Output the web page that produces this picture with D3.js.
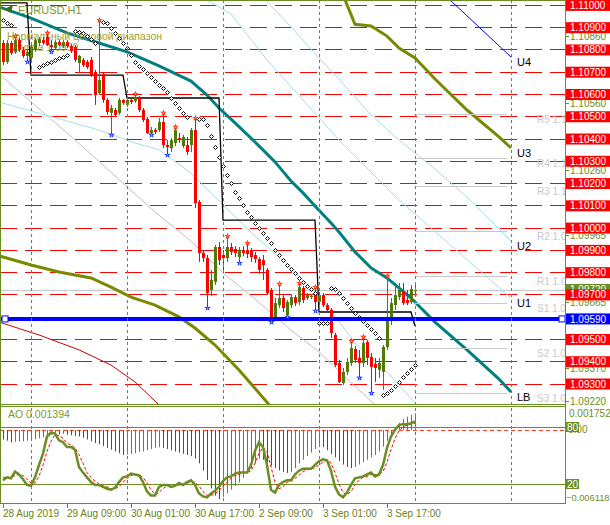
<!DOCTYPE html>
<html><head><meta charset="utf-8">
<script src="https://cdn.jsdelivr.net/npm/d3@7"></script>
<style>body{margin:0;background:#fff}svg{display:block}text{font-family:"Liberation Sans",Arial,sans-serif}</style>
</head><body>
<svg id="c" width="610" height="525"></svg>
<script>
// ---------------- DATA ----------------
const opens = [1.10829,1.10744,1.10829,1.10789,1.10842,1.10798,1.10771,1.10762,1.10798,1.10829,
1.10842,1.10856,1.10820,1.10807,1.10833,1.10815,1.10833,1.10815,1.10811,1.10739,
1.10753,1.10744,1.10753,1.10699,1.10604,1.10690,1.10573,1.10515,1.10528,1.10515,
1.10573,1.10551,1.10573,1.10569,1.10582,1.10528,1.10488,1.10425,1.10438,1.10438,
1.10474,1.10371,1.10357,1.10380,1.10402,1.10366,1.10371,1.10371,1.10438,1.10115,
1.09886,1.09863,1.09720,1.09756,1.09913,1.09877,1.09863,1.09913,1.09904,1.09868,
1.09899,1.09899,1.09899,1.09877,1.09859,1.09854,1.09810,1.09720,1.09585,1.09652,
1.09684,1.09608,1.09652,1.09688,1.09666,1.09729,1.09684,1.09688,1.09697,1.09666,
1.09697,1.09652,1.09630,1.09518,1.09392,1.09302,1.09352,1.09392,1.09455,1.09415,
1.09392,1.09486,1.09419,1.09388,1.09361,1.09352,1.09464,1.09585,1.09652,1.09688,
1.09711,1.09675,1.09666,1.09715];
const highs = [1.10842,1.10842,1.10838,1.10860,1.10851,1.10811,1.10798,1.10824,1.10851,1.10856,
1.10856,1.10874,1.10842,1.10842,1.10842,1.10842,1.10842,1.10824,1.10820,1.10775,
1.10762,1.10753,1.10766,1.10708,1.10932,1.10699,1.10582,1.10551,1.10537,1.10582,
1.10577,1.10586,1.10582,1.10600,1.10591,1.10537,1.10497,1.10452,1.10447,1.10492,
1.10515,1.10393,1.10402,1.10452,1.10425,1.10416,1.10407,1.10447,1.10492,1.10124,
1.09899,1.09877,1.09810,1.09922,1.09935,1.09899,1.09962,1.09931,1.09917,1.09913,
1.09917,1.09931,1.09908,1.09890,1.09868,1.09877,1.09819,1.09729,1.09684,1.09747,
1.09697,1.09675,1.09702,1.09697,1.09751,1.09738,1.09706,1.09702,1.09733,1.09711,
1.09706,1.09661,1.09639,1.09527,1.09406,1.09370,1.09415,1.09491,1.09469,1.09451,
1.09509,1.09496,1.09437,1.09415,1.09415,1.09473,1.09783,1.09684,1.09751,1.09751,
1.09751,1.09720,1.09742,1.09751];
const lows = [1.10730,1.10735,1.10775,1.10780,1.10789,1.10762,1.10744,1.10753,1.10789,1.10815,
1.10820,1.10815,1.10789,1.10798,1.10815,1.10807,1.10807,1.10784,1.10744,1.10694,
1.10721,1.10712,1.10676,1.10551,1.10595,1.10560,1.10506,1.10416,1.10497,1.10506,
1.10551,1.10542,1.10555,1.10560,1.10519,1.10474,1.10420,1.10416,1.10420,1.10429,
1.10357,1.10326,1.10339,1.10366,1.10380,1.10357,1.10326,1.10339,1.10088,1.09846,
1.09846,1.09639,1.09693,1.09742,1.09832,1.09810,1.09846,1.09877,1.09868,1.09841,
1.09872,1.09863,1.09846,1.09841,1.09792,1.09765,1.09697,1.09576,1.09581,1.09639,
1.09621,1.09599,1.09639,1.09648,1.09652,1.09661,1.09675,1.09679,1.09626,1.09652,
1.09643,1.09617,1.09504,1.09374,1.09302,1.09293,1.09338,1.09379,1.09392,1.09325,
1.09374,1.09383,1.09257,1.09307,1.09325,1.09271,1.09451,1.09563,1.09630,1.09675,
1.09652,1.09652,1.09657,1.09697];
const closes = [1.10744,1.10829,1.10784,1.10842,1.10798,1.10771,1.10789,1.10811,1.10842,1.10847,
1.10829,1.10820,1.10811,1.10833,1.10820,1.10833,1.10815,1.10793,1.10753,1.10771,
1.10730,1.10721,1.10685,1.10595,1.10663,1.10573,1.10519,1.10537,1.10506,1.10573,
1.10560,1.10573,1.10564,1.10586,1.10528,1.10483,1.10425,1.10438,1.10429,1.10474,
1.10371,1.10362,1.10393,1.10438,1.10393,1.10407,1.10339,1.10438,1.10110,1.09886,
1.09863,1.09706,1.09765,1.09913,1.09854,1.09863,1.09913,1.09890,1.09886,1.09899,
1.09886,1.09881,1.09868,1.09859,1.09810,1.09832,1.09706,1.09585,1.09661,1.09684,
1.09639,1.09666,1.09688,1.09661,1.09733,1.09675,1.09697,1.09693,1.09666,1.09697,
1.09652,1.09630,1.09527,1.09383,1.09307,1.09352,1.09397,1.09459,1.09406,1.09392,
1.09482,1.09415,1.09374,1.09370,1.09392,1.09464,1.09585,1.09661,1.09697,1.09720,
1.09661,1.09661,1.09724,1.09720];

// Parabolic SAR (null = not drawn)
const sar = [1.10932,1.10919,1.10910,null,null,null,null,null,null,1.10721,
1.10730,1.10739,1.10744,1.10753,1.10762,1.10766,1.10775,null,1.10883,1.10878,
1.10874,1.10860,1.10847,1.10829,null,1.10923,1.10919,1.10896,1.10874,1.10851,
1.10829,1.10807,1.10775,1.10744,1.10726,1.10712,1.10694,1.10676,1.10658,1.10640,
1.10627,1.10609,1.10582,1.10560,1.10537,1.10515,1.10497,null,null,1.10488,
1.10488,1.10461,1.10411,1.10362,1.10317,1.10277,1.10236,1.10200,1.10160,1.10133,
1.10102,1.10070,1.10048,1.10021,1.09998,1.09976,1.09953,1.09931,1.09899,1.09877,
1.09854,1.09832,1.09814,1.09796,1.09774,1.09756,1.09738,1.09724,1.09706,1.09572,
1.09572,1.09572,1.09729,1.09724,1.09706,1.09684,1.09661,1.09639,1.09617,1.09599,
1.09581,1.09563,1.09545,1.09527,1.09504,1.09248,1.09257,1.09271,1.09289,1.09307,
1.09329,1.09347,1.09365,1.09383];

const fractalUp = [3,11,24,33,40,43,48,56,61,69,74,78,87,90,96];
const fractalDown = [6,12,27,37,41,51,59,67,71,78,89,92];

// Awesome Oscillator
const aoValues = [-0.00080,-0.00090,-0.00105,-0.00100,-0.00098,-0.00095,-0.00090,-0.00085,-0.00078,-0.00070,
-0.00060,-0.00050,-0.00040,-0.00035,-0.00038,-0.00033,-0.00040,-0.00045,-0.00050,-0.00055,
-0.00065,-0.00080,-0.00095,-0.00110,-0.00120,-0.00135,-0.00150,-0.00165,-0.00180,-0.00195,
-0.00210,-0.00205,-0.00200,-0.00195,-0.00185,-0.00180,-0.00170,-0.00160,-0.00150,-0.00145,
-0.00150,-0.00160,-0.00170,-0.00180,-0.00190,-0.00200,-0.00210,-0.00220,-0.00240,-0.00280,
-0.00340,-0.00420,-0.00490,-0.00550,-0.00580,-0.00560,-0.00530,-0.00500,-0.00470,-0.00440,
-0.00400,-0.00360,-0.00320,-0.00280,-0.00240,-0.00250,-0.00270,-0.00300,-0.00320,-0.00340,
-0.00350,-0.00360,-0.00350,-0.00320,-0.00280,-0.00250,-0.00220,-0.00190,-0.00160,-0.00130,
-0.00145,-0.00170,-0.00200,-0.00230,-0.00260,-0.00290,-0.00310,-0.00320,-0.00310,-0.00290,
-0.00270,-0.00250,-0.00230,-0.00210,-0.00180,-0.00140,-0.00090,-0.00040,0.00020,0.00060,
0.00090,0.00110,0.00125,0.001394];
const aoMax = 0.001752, aoMin = -0.006118, aoLast = 0.001394;

// Stochastic
const stochK = [24,27,26,33,30,25,19,18,27,40,
52,70,74,73,66,64,59,59,56,38,
32,27,22,19,19,17,15,14,16,22,
27,28,31,30,29,22,12,8,8,17,
19,19,17,18,21,19,22,24,19,10,
7,6,10,13,17,23,27,28,31,32,
32,32,40,55,64,59,40,14,11,19,
22,24,24,30,34,36,36,36,40,44,
46,45,34,17,9,6,11,19,26,27,
28,30,32,28,30,40,58,70,77,82,
83,83,84,86];
const stochD = [27,27,26,29,30,29,25,21,21,28,
40,54,65,72,71,68,63,61,58,51,
42,32,27,23,20,18,17,15,15,17,
22,26,29,30,30,27,21,14,9,11,
15,18,18,18,19,19,21,22,22,18,
12,8,8,10,13,18,22,26,29,30,
32,32,34,42,52,59,54,38,22,15,
17,22,23,26,29,33,35,36,37,40,
43,45,42,32,20,11,9,12,19,24,
27,28,30,30,30,33,43,56,68,76,
80,82,83,84];
const stochLevels = [80, 20];

// Price levels
const gridLevels = [1.11000,1.10900,1.10800,1.10700,1.10600,1.10500,1.10400,1.10300,1.10200,1.10100,1.10000,1.09900,1.09800,1.09700,1.09600,1.09500,1.09400,1.09300];
const boxLevels = [1.11000,1.10900,1.10800,1.10700,1.10600,1.10500,1.10400,1.10300,1.10200,1.10100,1.10000,1.09900,1.09800,1.09700,1.09500,1.09400,1.09300];
const axisTicks = [1.10860,1.10560,1.10260,1.09965,1.09665,1.09370,1.09220];
const bidPrice = 1.09720;
const blueLevel = 1.09590;

// Pivot levels (drawn on the current day)
const pivotNames = ["R5","R4","R3","R2","R1","S1","S2","S3"];
const pivotValues = [1.10510,1.10313,1.10187,1.09985,1.09783,1.09662,1.09459,1.09257];
const pivotSpan = [103,126];

// Channel lines [bar index, price]
const lbLine = [[-1,1.10991],[7,1.10941],[16,1.10874],[24,1.10829],[31,1.10789],[39,1.10726],[47,1.10658],[51,1.10595],[54,1.10537],[58,1.10470],[62,1.10402],[65,1.10349],[68,1.10295],[72,1.10209],[75,1.10156],[78,1.10097],[82,1.10021],[84,1.09980],[88,1.09891],[92,1.09819],[96,1.09774],[102,1.09684],[108,1.09576],[116,1.09451],[124,1.09320],[127,1.09262]];
const u1Line = [[45,1.11100],[51,1.11022],[57,1.10959],[66,1.10753],[84,1.10393],[99,1.10124],[127,1.09684]];
const u2Line = [[65,1.11035],[72,1.10901],[79,1.10762],[84,1.10667],[92,1.10506],[99,1.10393],[108,1.10263],[116,1.10137],[127,1.09940]];
const u3Line = [[84,1.11089],[88,1.10913],[92,1.10905],[96,1.10860],[99,1.10806],[103,1.10762],[108,1.10667],[116,1.10528],[124,1.10407],[127,1.10358]];
const u4Line = [[108,1.11085],[112,1.11018],[127,1.10766]];
const l1Line = [[-1,1.10564],[24,1.10438],[33,1.10380],[39,1.10349],[47,1.10245],[55,1.10102],[63,1.09962],[72,1.09819],[80,1.09675],[88,1.09482],[96,1.09352],[103,1.09213],[106,1.09159]];
const grayLine = [[-1,1.10690],[20,1.10362],[30,1.10200],[38,1.10070],[47,1.09940],[55,1.09796],[63,1.09679],[72,1.09540],[79,1.09442],[85,1.09338],[93,1.09204]];
const oliveMA = [[-1,1.09873],[7,1.09832],[14,1.09801],[22,1.09774],[27,1.09733],[32,1.09688],[38,1.09652],[44,1.09599],[48,1.09549],[53,1.09473],[59,1.09361],[67,1.09195]];
const redMA = [[-1,1.09576],[9,1.09518],[19,1.09451],[27,1.09383],[33,1.09307],[39,1.09204]];
const channelLabels = ["U4","U3","U2","U1","LB"];

// Daily "normal price range" levels
const dayFirstBar = [-1,7,31,55,79,103];
const rangeLevels = [1.11009,1.10685,1.10582,1.10034,1.09621,1.09558];

// Time axis
const separators = [7,31,55,79,103,127];
const timeTicks = [0,16,32,48,64,80,96];
const timeLabels = ["28 Aug 2019","29 Aug 09:00","30 Aug 01:00","30 Aug 17:00","2 Sep 09:00","3 Sep 01:00","3 Sep 17:00"];

// ---------------- DRAWING ----------------
const svg = d3.select("#c");
const PR = 565, MB = 404, AT = 407, AB = 504;
const OL = "#6b8e23", BULL = "#4f7a0a", BEAR = "#ff0000";
const x = d3.scaleLinear().domain([0,140]).range([3,563]);
const y = d3.scaleLinear().domain([1.09208,1.11022]).range([404,0]);
const yAO = d3.scaleLinear().domain([aoMin,aoMax]).range([503,409]);
const yST = d3.scaleLinear().domain([0,100]).range([503,408]);
const px = i => Math.round(x(i)) + 0.5;
const py = v => Math.round(y(v)) + 0.5;

const defs = svg.append("defs");
defs.append("clipPath").attr("id","cm").append("rect").attr("x",0).attr("y",0).attr("width",PR).attr("height",MB);
defs.append("clipPath").attr("id","ca").append("rect").attr("x",0).attr("y",AT).attr("width",PR).attr("height",AB-AT);

const gm = svg.append("g").attr("clip-path","url(#cm)");
const ga = svg.append("g").attr("clip-path","url(#ca)");

// red dashed grid
gm.selectAll(".grid").data(gridLevels).join("line")
  .attr("x1",0).attr("x2",PR).attr("y1",py).attr("y2",py)
  .attr("stroke","#ff0000").attr("stroke-dasharray","17,8");

// day separators (both panels)
svg.selectAll(".sep").data(separators).join("line")
  .attr("x1",px).attr("x2",px).attr("y1",0).attr("y2",AB)
  .attr("stroke",OL).attr("stroke-dasharray","3,3");

// bid line
gm.append("line").attr("x1",0).attr("x2",PR).attr("y1",py(bidPrice)).attr("y2",py(bidPrice)).attr("stroke","#c8c8c8");

const line = d3.line().x(d=>x(d[0])).y(d=>y(d[1]));
const drawLine = (data,color,w) => gm.append("path").attr("d",line(data)).attr("fill","none").attr("stroke",color).attr("stroke-width",w);
drawLine(grayLine,"#c0c0c0",1);
drawLine(l1Line,"#a8dce8",1);
drawLine(u1Line,"#a8dce8",1);
drawLine(u2Line,"#a8dce8",1);
drawLine(redMA,"#d00000",1);
drawLine(oliveMA,"#7a8a00",3);
drawLine(u3Line,"#7a8a00",3);
drawLine(u4Line,"#0000ff",1);
drawLine(lbLine,"#008080",3);

// pivot lines
gm.selectAll(".piv").data(pivotValues).join("line")
  .attr("x1",x(pivotSpan[0])).attr("x2",x(pivotSpan[1])).attr("y1",py).attr("y2",py).attr("stroke","#c8c8c8");
gm.selectAll(".pivt").data(pivotValues).join("text")
  .attr("x",537).attr("y",d=>y(d)+9).attr("font-size",10).attr("fill","#c8c8c8")
  .text((d,i)=>pivotNames[i]+" "+d3.format(".5f")(d));

// normal price range step line
const stepPts = [];
dayFirstBar.forEach((f,k)=>{
  const last = k<dayFirstBar.length-1 ? dayFirstBar[k+1]-1 : f;
  stepPts.push([f,rangeLevels[k]]); stepPts.push([last,rangeLevels[k]]);
});
gm.append("path").attr("d",line(stepPts)).attr("fill","none").attr("stroke","#000").attr("stroke-width",1.3);

// texts
gm.append("path").attr("d","M4,9 L13,5 L11,13 Z").attr("fill","#3d6b1a");
gm.append("text").attr("x",18).attr("y",14).attr("font-size",11).attr("fill","#7f9a1f").text("EURUSD,H1");
gm.append("text").attr("x",7).attr("y",40).attr("font-size",10.5).attr("fill","#a0a030").text("Нормальный ценовой диапазон");
gm.append("text").attr("x",10).attr("y",51).attr("font-size",10.5).attr("fill","#a0a030").text("Группа 1.0959");

// candles
const idx = d3.range(opens.length);
gm.selectAll(".wick").data(idx).join("line")
  .attr("x1",px).attr("x2",px).attr("y1",i=>y(highs[i])).attr("y2",i=>y(lows[i]))
  .attr("stroke",i=>closes[i]>=opens[i]?BULL:BEAR);
gm.selectAll(".body").data(idx).join("rect")
  .attr("x",i=>Math.round(x(i))-1).attr("width",3)
  .attr("y",i=>Math.min(y(opens[i]),y(closes[i])))
  .attr("height",i=>Math.max(1,Math.abs(y(opens[i])-y(closes[i]))))
  .attr("fill",i=>closes[i]>=opens[i]?BULL:BEAR);

// SAR
gm.selectAll(".sar").data(idx.filter(i=>sar[i]!==null)).join("path")
  .attr("d",i=>{const cx=Math.round(x(i))+0.5, cy=Math.round(y(sar[i]))+0.5; return `M${cx},${cy-2}L${cx+2},${cy}L${cx},${cy+2}L${cx-2},${cy}Z`;})
  .attr("fill","#fff").attr("stroke","#000").attr("stroke-width",1);

// blue level
gm.append("line").attr("x1",0).attr("x2",PR).attr("y1",y(blueLevel)).attr("y2",y(blueLevel)).attr("stroke","#0000ff").attr("stroke-width",4);
[5,562].forEach(cx=>gm.append("rect").attr("x",cx-3).attr("y",y(blueLevel)-3).attr("width",6).attr("height",6).attr("fill","#fff").attr("stroke","#0000ff"));

// fractals
const star = d3.symbol(d3.symbolStar,14);
gm.selectAll(".fu").data(fractalUp).join("path")
  .attr("transform",i=>`translate(${x(i)+0.5},${y(highs[i])})`).attr("d",star).attr("fill","#ff3010");
gm.selectAll(".fuc").data(fractalUp).join("circle")
  .attr("cx",i=>x(i)+0.5).attr("cy",i=>y(highs[i])).attr("r",0.8).attr("fill","#ffb040");
gm.selectAll(".fd").data(fractalDown).join("path")
  .attr("transform",i=>`translate(${x(i)+0.5},${y(lows[i])})`).attr("d",star).attr("fill","#1030ff");
gm.selectAll(".fdc").data(fractalDown).join("circle")
  .attr("cx",i=>x(i)+0.5).attr("cy",i=>y(lows[i])).attr("r",0.8).attr("fill","#a0b8ff");

// channel labels
const lastPts = [u4Line,u3Line,u2Line,u1Line,lbLine].map(a=>a[a.length-1]);
gm.selectAll(".cl").data(lastPts).join("text")
  .attr("x",517).attr("y",d=>y(d[1])+9).attr("font-size",11).attr("fill","#000")
  .text((d,i)=>channelLabels[i]);

// ---------- AO panel ----------
ga.append("line").attr("x1",0).attr("x2",PR).attr("y1",Math.round(yAO(0))+0.5).attr("y2",Math.round(yAO(0))+0.5)
  .attr("stroke","#ff4020").attr("stroke-dasharray","4,3");
ga.selectAll(".lvl").data(stochLevels).join("line")
  .attr("x1",0).attr("x2",PR).attr("y1",d=>Math.round(yST(d))+0.5).attr("y2",d=>Math.round(yST(d))+0.5).attr("stroke",OL);
ga.selectAll(".ao").data(idx).join("line")
  .attr("x1",px).attr("x2",px).attr("y1",yAO(0)).attr("y2",i=>yAO(aoValues[i]))
  .attr("stroke",i=>(i>0 && aoValues[i]>aoValues[i-1])?"#5f8a10":"#ff0000");
const sl = d3.line().x((d,i)=>x(i)).y(d=>yST(d));
ga.append("path").attr("d",sl(stochD)).attr("fill","none").attr("stroke","#ff0000").attr("stroke-width",1).attr("stroke-dasharray","3,2");
ga.append("path").attr("d",sl(stochK)).attr("fill","none").attr("stroke","#6b8e23").attr("stroke-width",2.5);
ga.append("text").attr("x",8).attr("y",418).attr("font-size",10.5).attr("fill","#7f9a1f").text("AO "+d3.format(".6f")(aoLast));

// ---------- frames ----------
const fr = svg.append("g").attr("stroke",OL).attr("fill","none");
fr.append("line").attr("x1",0).attr("x2",PR).attr("y1",0.5).attr("y2",0.5);
fr.append("line").attr("x1",0).attr("x2",PR).attr("y1",MB+0.5).attr("y2",MB+0.5);
fr.append("line").attr("x1",0).attr("x2",PR).attr("y1",AT-0.5).attr("y2",AT-0.5);
fr.append("line").attr("x1",0).attr("x2",PR).attr("y1",AB-0.5).attr("y2",AB-0.5);
fr.append("line").attr("x1",0.5).attr("x2",0.5).attr("y1",0).attr("y2",AB);
fr.append("line").attr("x1",PR+0.5).attr("x2",PR+0.5).attr("y1",0).attr("y2",AB);

// ---------- right price axis ----------
svg.selectAll(".at").data(axisTicks).join("line")
  .attr("x1",PR).attr("x2",PR+4).attr("y1",py).attr("y2",py).attr("stroke",OL);
svg.selectAll(".atl").data(axisTicks).join("text")
  .attr("x",570).attr("y",d=>y(d)+4).attr("font-size",10).attr("fill",OL).text(d3.format(".5f"));
// current price box
svg.append("rect").attr("x",566).attr("y",y(bidPrice)-6).attr("width",44).attr("height",11).attr("fill",OL);
svg.append("text").attr("x",570).attr("y",y(bidPrice)+3.5).attr("font-size",10).attr("fill","#fff").text(d3.format(".5f")(bidPrice));
// red boxes
svg.selectAll(".rb").data(boxLevels).join("rect")
  .attr("x",566).attr("y",d=>y(d)-5).attr("width",44).attr("height",11).attr("fill","#ff0000");
svg.selectAll(".rbt").data(boxLevels).join("text")
  .attr("x",570).attr("y",d=>y(d)+4).attr("font-size",10).attr("fill","#fff").text(d3.format(".5f"));
// blue box
svg.append("rect").attr("x",566).attr("y",y(blueLevel)-5.5).attr("width",44).attr("height",11).attr("fill","#0000ff");
svg.append("text").attr("x",570).attr("y",y(blueLevel)+4).attr("font-size",10).attr("fill","#fff").text(d3.format(".5f")(blueLevel));

// ---------- AO right axis ----------
svg.append("text").attr("x",569).attr("y",417).attr("font-size",10).attr("fill",OL).text(d3.format(".6f")(aoMax));
svg.append("text").attr("x",568).attr("y",yAO(0)+3.5).attr("font-size",10).attr("fill",OL).text("0.00");
svg.append("text").attr("x",566).attr("y",501).attr("font-size",9.3).attr("fill",OL).text(d3.format(".6f")(aoMin));
stochLevels.forEach(v=>{
  svg.append("rect").attr("x",566).attr("y",yST(v)-5).attr("width",13).attr("height",10).attr("fill",OL);
  svg.append("text").attr("x",567).attr("y",yST(v)+4).attr("font-size",10).attr("fill","#fff").text(v);
});

// ---------- time axis ----------
svg.selectAll(".tt").data(timeTicks).join("line")
  .attr("x1",px).attr("x2",px).attr("y1",AB).attr("y2",AB+4).attr("stroke",OL);
svg.selectAll(".tl").data(timeTicks).join("text")
  .attr("x",i=>x(i)).attr("y",517).attr("font-size",10).attr("fill","#6b7f1a")
  .text((d,k)=>timeLabels[k]);
</script>
</body></html>
